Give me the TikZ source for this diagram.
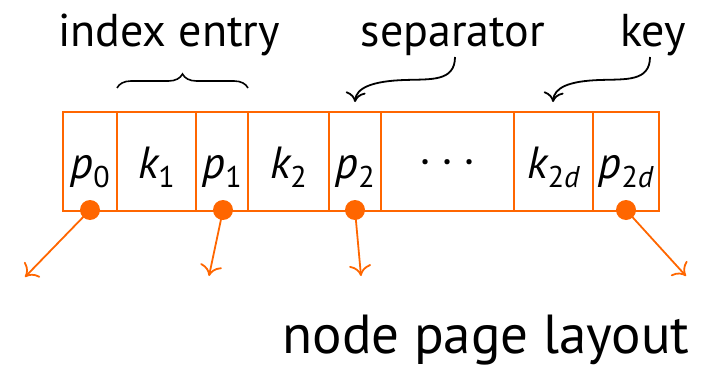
\documentclass[tikz,border=0pt]{standalone}
\usepackage{fontspec}
\setmainfont{PT Sans}
\usetikzlibrary{arrows.meta,decorations.pathreplacing}
\definecolor{org}{RGB}{255,102,0}
\newcommand{\lblsub}[2]{{\itshape #1}\raisebox{-0.2em}{\fontsize{30}{31}\selectfont #2}}
\begin{document}
\begin{tikzpicture}[x=1pt,y=-1pt,
  cellbox/.style={draw=org,line width=1.8pt,inner sep=0pt,minimum height=99pt},
  lbl/.style={anchor=base,inner sep=0pt,font=\fontsize{45}{48}\selectfont},
  ttl/.style={anchor=base,inner sep=0pt,font=\fontsize{46}{50}\selectfont},
  pdot/.style={circle,fill=org,inner sep=0pt,minimum size=20pt},
  parr/.style={draw=org,line width=1.8pt,-{To[length=11pt,width=22pt]}},
  blarr/.style={draw=black,line width=1.8pt,-{To[length=10pt,width=20pt]}},
  brc/.style={draw=black,line width=1.6pt,decorate,decoration={brace,amplitude=14pt}}]
\useasboundingbox (0,0) rectangle (707,369);
% cells
\node[cellbox,minimum width=54pt] (c0) at (90,161.5) {};
\node[cellbox,minimum width=79pt] (c1) at (156.5,161.5) {};
\node[cellbox,minimum width=52pt] (c2) at (222,161.5) {};
\node[cellbox,minimum width=81pt] (c3) at (288.5,161.5) {};
\node[cellbox,minimum width=52pt] (c4) at (355,161.5) {};
\node[cellbox,minimum width=133pt] (c5) at (447.5,161.5) {};
\node[cellbox,minimum width=79pt] (c6) at (553.5,161.5) {};
\node[cellbox,minimum width=66pt] (c7) at (626,161.5) {};
% labels
\node[lbl] (l0) at (90,178) {\lblsub{p}{0}};
\node[lbl] (l1) at (156.5,178) {\lblsub{k}{1}};
\node[lbl] (l2) at (222,178) {\lblsub{p}{1}};
\node[lbl] (l3) at (288.5,178) {\lblsub{k}{2}};
\node[lbl] (l4) at (355,178) {\lblsub{p}{2}};
\node[lbl] (l5) at (448,175) {\textperiodcentered\hspace{10pt}\textperiodcentered\hspace{10pt}\textperiodcentered};
\node[lbl] (l6) at (553.5,178) {\lblsub{k}{2\itshape d}};
\node[lbl] (l7) at (626,178) {\lblsub{p}{2\itshape d}};
% dots and pointers
\node[pdot] (d0) at (90,210) {};
\node[pdot] (d1) at (223,210) {};
\node[pdot] (d2) at (355,210) {};
\node[pdot] (d3) at (626,210) {};
\coordinate (e0) at (25,277);
\coordinate (e1) at (209,276);
\coordinate (e2) at (361,276);
\coordinate (e3) at (686,276);
\draw[parr] (d0.center) -- (e0);
\draw[parr] (d1.center) -- (e1);
\draw[parr] (d2.center) -- (e2);
\draw[parr] (d3.center) -- (e3);
% titles
\node[ttl] (tidx) at (169,47) {index entry};
\node[ttl] (tsep) at (453,47) {separator};
\node[ttl] (tkey) at (653,47) {key};
\node[anchor=base,inner sep=0pt,font=\fontsize{55}{58}\selectfont] (tnpl) at (486,353) {node page layout};
% brace
\coordinate (b0) at (117,88);
\coordinate (b1) at (248,88);
\draw[brc] (b0) -- (b1);
% curved arrows
\coordinate (s0) at (455,57);
\coordinate (s1) at (355,102);
\coordinate (k0) at (650,57);
\coordinate (k1) at (553,102);
\draw[blarr] (s0) .. controls (455,82) and (430,79) .. (405,80) .. controls (372,81) and (356,88) .. (s1);
\draw[blarr] (k0) .. controls (650,82) and (625,79) .. (600,80) .. controls (568,81) and (554,88) .. (k1);
\end{tikzpicture}
\end{document}
